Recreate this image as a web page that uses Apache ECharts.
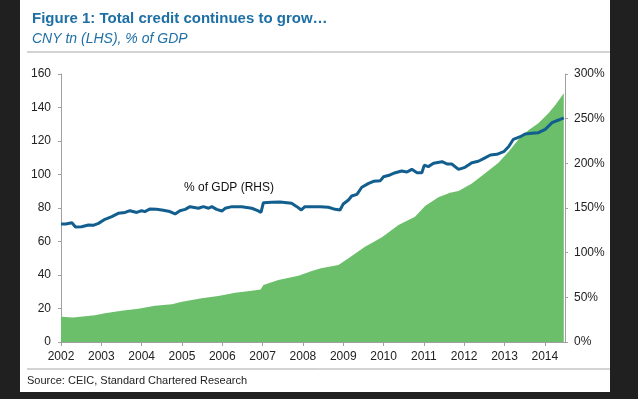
<!DOCTYPE html>
<html>
<head>
<meta charset="utf-8">
<script src="https://cdn.jsdelivr.net/npm/echarts@6/dist/echarts.min.js"></script>
<style>
  html, body { margin: 0; padding: 0; background: #202020; }
  .panel { position: absolute; left: 20px; top: 0; width: 590px; height: 392px; background: #fff; }
  #chart { position: absolute; left: 0; top: 0; width: 638px; height: 399px; }
</style>
</head>
<body>
<div class="panel"></div>
<div id="chart"></div>
<script>
// total credit, CNY tn (left axis)
var creditYears = [2002.00, 2002.30, 2002.84, 2003.09, 2003.50, 2003.92, 2004.33, 2004.75, 2005.00, 2005.49,
  2005.90, 2006.32, 2006.73, 2006.95, 2007.02, 2007.39, 2007.89, 2008.22, 2008.45, 2008.88,
  2009.13, 2009.54, 2009.96, 2010.37, 2010.78, 2011.03, 2011.36, 2011.65, 2011.86, 2012.19,
  2012.52, 2012.85, 2013.10, 2013.35, 2013.60, 2013.84, 2014.09, 2014.26, 2014.47];
var credit = [15.1, 14.7, 15.9, 17.1, 18.7, 19.9, 21.7, 22.5, 24.1, 26.1,
  27.5, 29.4, 30.6, 31.4, 34.0, 37.0, 39.6, 42.4, 44.0, 46.0,
  50.0, 56.9, 62.5, 69.9, 74.8, 81.2, 86.4, 89.1, 90.1, 94.7,
  100.7, 107.0, 113.6, 121.0, 126.6, 130.6, 136.5, 141.5, 148.5];

// % of GDP (right axis)
var gdpYears = [2002.00, 2002.12, 2002.27, 2002.36, 2002.51, 2002.68, 2002.80, 2002.93, 2003.09, 2003.26,
  2003.42, 2003.59, 2003.71, 2003.88, 2004.00, 2004.08, 2004.21, 2004.37, 2004.50, 2004.70,
  2004.83, 2004.95, 2005.08, 2005.20, 2005.41, 2005.53, 2005.66, 2005.74, 2005.86, 2005.99,
  2006.07, 2006.24, 2006.48, 2006.73, 2006.88, 2006.96, 2007.02, 2007.23, 2007.43, 2007.72,
  2007.85, 2007.96, 2008.05, 2008.22, 2008.43, 2008.63, 2008.80, 2008.92, 2009.00, 2009.13,
  2009.21, 2009.34, 2009.46, 2009.63, 2009.75, 2009.92, 2010.00, 2010.16, 2010.29, 2010.45,
  2010.58, 2010.70, 2010.83, 2010.95, 2011.01, 2011.11, 2011.24, 2011.45, 2011.57, 2011.69,
  2011.86, 2012.02, 2012.19, 2012.35, 2012.48, 2012.65, 2012.81, 2012.98, 2013.10, 2013.22,
  2013.39, 2013.51, 2013.68, 2013.84, 2014.01, 2014.18, 2014.34, 2014.47];
var gdpPct = [132, 132, 133.5, 128.7, 129, 131, 130.6, 132.8, 137.3, 140.3,
  144, 145, 147, 145, 147, 146, 149, 148.5, 147.8, 146,
  143.3, 147, 148.5, 151.5, 149.7, 151.5, 149.7, 151.5, 148.5, 146.6,
  149.7, 151.5, 151.5, 149.7, 147, 145, 156, 156.4, 156.7, 155.2,
  151.5, 147.8, 151.5, 151.5, 151.5, 150.8, 148.5, 147.8, 154.5, 159,
  163.4, 165.3, 173.2, 177.6, 179.9, 180.6, 185, 187, 189.5, 191.4,
  190.3, 193.3, 189.5, 189.5, 198, 196.3, 200, 201.8, 199.3, 199.3,
  193.3, 195.5, 200.7, 202.3, 205.2, 209.3, 210.1, 213, 218.6, 226.9,
  229.8, 232.8, 233.6, 234.3, 238.1, 245.5, 248.5, 251];

var font = 'Liberation Sans, Arial, sans-serif';

function pairs(xs, ys) {
  return xs.map(function (x, i) { return [x, ys[i]]; });
}

var myChart = echarts.init(document.getElementById('chart'));

var axisGray = '#a0a0a0';

var option = {
  backgroundColor: 'transparent',
  animation: false,
  textStyle: { fontFamily: font },
  title: {
    text: 'Figure 1: Total credit continues to grow…',
    subtext: 'CNY tn (LHS), % of GDP',
    left: 27,
    top: 6,
    itemGap: 6,
    textStyle: { color: '#1d6fa5', fontSize: 15, fontWeight: 'bold', fontFamily: font },
    subtextStyle: { color: '#1d6fa5', fontSize: 14, fontStyle: 'italic', fontFamily: font }
  },
  grid: { left: 61, right: 73, top: 74, bottom: 57 },
  xAxis: {
    type: 'value',
    min: 2002,
    max: 2014.5,
    interval: 1,
    splitLine: { show: false },
    axisLine: { lineStyle: { color: axisGray } },
    axisTick: { show: true, length: 4, lineStyle: { color: axisGray } },
    axisLabel: {
      color: '#222', fontSize: 12, margin: 9, showMaxLabel: false,
      formatter: function (v) { return String(v); }
    }
  },
  yAxis: [
    {
      type: 'value',
      min: 0, max: 160, interval: 20,
      splitLine: { show: false },
      axisLine: { show: true, lineStyle: { color: axisGray } },
      axisTick: { show: true, length: 3, lineStyle: { color: axisGray } },
      axisLabel: { color: '#222', fontSize: 12, margin: 10 }
    },
    {
      type: 'value',
      min: 0, max: 300, interval: 50,
      position: 'right',
      splitLine: { show: false },
      axisLine: { show: true, lineStyle: { color: axisGray } },
      axisTick: { show: true, length: 3, lineStyle: { color: axisGray } },
      axisLabel: { color: '#222', fontSize: 12, margin: 9, formatter: '{value}%' }
    }
  ],
  series: [
    {
      name: 'credit',
      type: 'line',
      yAxisIndex: 0,
      data: pairs(creditYears, credit),
      showSymbol: false,
      lineStyle: { width: 0 },
      areaStyle: { color: '#6cbf6a', opacity: 1 }
    },
    {
      name: 'gdp',
      type: 'line',
      yAxisIndex: 1,
      data: pairs(gdpYears, gdpPct),
      showSymbol: false,
      lineStyle: { color: '#125f8f', width: 3 },
      z: 3
    }
  ],
  graphic: [
    { type: 'line', shape: { x1: 27, y1: 52, x2: 610, y2: 52 }, style: { stroke: '#a8a8a8', lineWidth: 1 } },
    { type: 'line', shape: { x1: 27, y1: 369, x2: 610, y2: 369 }, style: { stroke: '#a8a8a8', lineWidth: 1 } },
    {
      type: 'text', left: 27, top: 375,
      style: { text: 'Source: CEIC, Standard Chartered Research', fill: '#222', font: '11px ' + font }
    },
    {
      type: 'text', x: 229, y: 188,
      style: { text: '% of GDP (RHS)', fill: '#111', font: '12px ' + font, align: 'center', verticalAlign: 'middle' }
    },
    {
      type: 'text', x: 469, y: 292,
      style: {
        text: 'Our measure of total\ncredit,\nCNY tn', fill: '#111', font: '12px ' + font,
        align: 'center', verticalAlign: 'middle', lineHeight: 16
      }
    }
  ]
};

myChart.setOption(option);
window.addEventListener('resize', myChart.resize);
</script>
</body>
</html>
